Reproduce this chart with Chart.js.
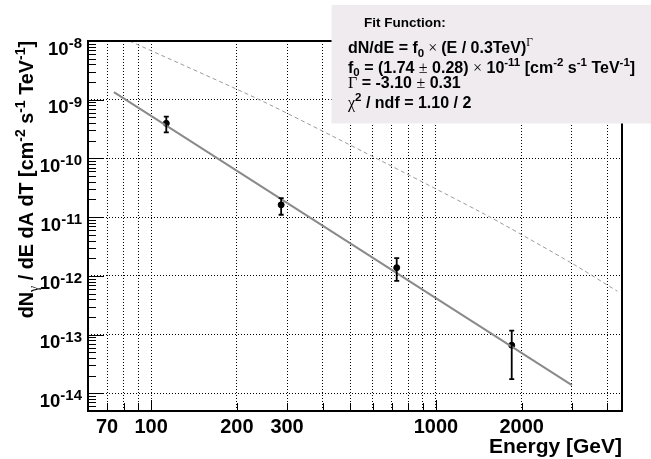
<!DOCTYPE html>
<html>
<head>
<meta charset="utf-8">
<script src="https://cdn.jsdelivr.net/npm/chart.js@4.4.1/dist/chart.umd.min.js"></script>
<style>
    html, body { margin: 0; padding: 0; background: #fff; }
    #caixa { width: 651px; height: 459px; }
</style>
</head>
<body>
<div id="caixa"><canvas id="espectro" width="651" height="459"></canvas></div>
<script>
// pontos medidos (GeV, fluxo) e barras de erro
const energias = [113, 286, 728, 1845];
const fluxos = [3.96e-10, 1.62e-11, 1.38e-12, 6.6e-14];
const fluxoMin = [2.79e-10, 1.10e-11, 8.2e-13, 1.75e-14];
const fluxoMax = [5.14e-10, 2.11e-11, 2.0e-12, 1.17e-13];

// reta do ajuste
const ajusteEnergia = [74, 3000];
const ajusteFluxo = [1.35e-9, 1.38e-14];

// curva tracejada de referencia
const refEnergia = [84, 240, 618, 1550, 3000, 4330];
const refFluxo = [1e-8, 1e-9, 1e-10, 1e-11, 1.64e-12, 5.5e-13];

// eixos
const xMarcas = [60, 70, 80, 90, 100, 200, 300, 400, 500, 600, 700, 800, 900, 1000, 2000, 3000, 4000];
const xRotulos = [70, 100, 200, 300, 1000, 2000];
const yExpoentes = [-8, -9, -10, -11, -12, -13, -14];

const FONTE = '"Liberation Sans", Arial, Helvetica, sans-serif';
const SIMBOLO = '"Liberation Serif", "Times New Roman", serif';

const yMarcas = [];
[-15, -14, -13, -12, -11, -10, -9, -8].forEach(e => {
    for (let m = 1; m <= 9; m++) {
        const v = m * Math.pow(10, e);
        if (v >= 5e-15 && v <= 1.0000001e-8) yMarcas.push(v);
    }
});

function ehDecada(v) {
    const l = Math.log10(v);
    return Math.abs(l - Math.round(l)) < 1e-6;
}

function fonte(tam, simb) {
    return simb ? `${tam}px ${SIMBOLO}` : `bold ${tam}px ${FONTE}`;
}

// partes: [texto, modo, simbolo]; modo 1 = sobrescrito, -1 = subscrito
function textoRico(ctx, partes, x, y, tam, peq, subida, descida, alinhar) {
    const larguras = partes.map(([t, m, s]) => {
        ctx.font = fonte(m ? peq : tam, s);
        return ctx.measureText(t).width;
    });
    const total = larguras.reduce((a, b) => a + b, 0);
    let cx = alinhar === "right" ? x - total : alinhar === "center" ? x - total / 2 : x;
    ctx.textAlign = "left";
    ctx.textBaseline = "alphabetic";
    partes.forEach(([t, m, s], i) => {
        ctx.font = fonte(m ? peq : tam, s);
        const dy = m === 1 ? -subida : m === -1 ? descida : 0;
        ctx.fillText(t, cx, y + dy);
        cx += larguras[i];
    });
}

const desenhos = {
    id: "desenhos",
    afterDatasetsDraw(chart) {
        const { ctx, scales: { x, y } } = chart;
        ctx.save();
        ctx.strokeStyle = "#000";
        ctx.lineWidth = 1.8;
        energias.forEach((e, i) => {
            const px = x.getPixelForValue(e);
            const y1 = y.getPixelForValue(fluxoMax[i]);
            const y2 = y.getPixelForValue(fluxoMin[i]);
            ctx.beginPath();
            ctx.moveTo(px, y1); ctx.lineTo(px, y2);
            ctx.moveTo(px - 2.5, y1); ctx.lineTo(px + 2.5, y1);
            ctx.moveTo(px - 2.5, y2); ctx.lineTo(px + 2.5, y2);
            ctx.stroke();
        });
        ctx.restore();
    },
    afterDraw(chart) {
        const { ctx, chartArea: a, scales: { x, y } } = chart;
        ctx.save();

        // marcas internas
        ctx.strokeStyle = "#000";
        ctx.lineWidth = 1;
        ctx.beginPath();
        xMarcas.forEach(v => {
            if (v <= 60) return;
            const px = Math.round(x.getPixelForValue(v)) + 0.5;
            const len = ehDecada(v) ? 11 : 8;
            ctx.moveTo(px, a.bottom); ctx.lineTo(px, a.bottom - len);
        });
        yMarcas.forEach(v => {
            const py = Math.round(y.getPixelForValue(v)) + 0.5;
            const len = ehDecada(v) ? 16 : 8;
            ctx.moveTo(a.left, py); ctx.lineTo(a.left + len, py);
        });
        ctx.stroke();

        // moldura
        ctx.lineWidth = 2;
        ctx.strokeRect(a.left, a.top, a.right - a.left, a.bottom - a.top);

        ctx.fillStyle = "#000";

        // rotulos do eixo x
        ctx.font = fonte(20);
        ctx.textAlign = "center";
        ctx.textBaseline = "alphabetic";
        xRotulos.forEach(v => {
            ctx.fillText(String(v), x.getPixelForValue(v), 433);
        });

        // rotulos do eixo y
        yExpoentes.forEach(e => {
            const py = y.getPixelForValue(Math.pow(10, e));
            textoRico(ctx, [["10", 0], [String(e), 1]], 82, py + 13.5, 18.5, 15, 6.5, 0, "right");
        });

        // titulos
        ctx.font = fonte(21);
        ctx.textAlign = "right";
        ctx.fillText("Energy [GeV]", a.right, 453);

        ctx.save();
        ctx.translate(33, a.top);
        ctx.rotate(-Math.PI / 2);
        textoRico(ctx, [
            ["dN", 0], ["\u03b3", -1, true], [" / dE dA dT [cm", 0], ["-2", 1],
            [" s", 0], ["-1", 1], [" TeV", 0], ["-1", 1], ["]", 0]
        ], 0, 0, 19.8, 14, 8, 5, "right");
        ctx.restore();

        // caixa do ajuste
        ctx.fillStyle = "#efebef";
        ctx.fillRect(331.5, 5, 651 - 331.5, 118.5);
        ctx.fillStyle = "#000";
        textoRico(ctx, [["Fit Function:", 0]], 364, 27, 13.5, 10, 0, 0, "left");
        textoRico(ctx, [
            ["dN/dE = f", 0], ["0", -1], [" \u00d7 ", 0, true], ["(E / 0.3TeV)", 0], ["\u0393", 1, true]
        ], 348, 53, 16, 11.5, 7, 3.5, "left");
        textoRico(ctx, [
            ["f", 0], ["0", -1], [" = (1.74 ", 0], ["\u00b1", 0, true], [" 0.28) ", 0], ["\u00d7", 0, true],
            [" 10", 0], ["-11", 1], [" [cm", 0], ["-2", 1], [" s", 0], ["-1", 1],
            [" TeV", 0], ["-1", 1], ["]", 0]
        ], 348, 72.5, 16, 11.5, 7, 3.5, "left");
        textoRico(ctx, [
            ["\u0393", 0, true], [" = -3.10 ", 0], ["\u00b1", 0, true], [" 0.31", 0]
        ], 348, 88, 16, 11.5, 7, 3.5, "left");
        textoRico(ctx, [
            ["\u03c7", 0, true], ["2", 1], [" / ndf = 1.10 / 2", 0]
        ], 348, 107.5, 16, 11.5, 7, 3.5, "left");

        ctx.restore();
    }
};

new Chart(document.getElementById("espectro"), {
    type: "scatter",
    data: {
        datasets: [
            {
                data: ajusteEnergia.map((e, i) => ({ x: e, y: ajusteFluxo[i] })),
                showLine: true,
                borderColor: "#8a8a8a",
                borderWidth: 2,
                pointRadius: 0
            },
            {
                data: refEnergia.map((e, i) => ({ x: e, y: refFluxo[i] })),
                showLine: true,
                borderColor: "#9a9a9a",
                borderWidth: 1,
                borderDash: [4, 3],
                tension: 0.2,
                pointRadius: 0
            },
            {
                data: energias.map((e, i) => ({ x: e, y: fluxos[i] })),
                backgroundColor: "#000",
                borderColor: "#000",
                pointRadius: 3
            }
        ]
    },
    options: {
        responsive: false,
        animation: false,
        layout: { padding: { left: 88, top: 41, right: 29, bottom: 48 } },
        plugins: { legend: { display: false }, tooltip: { enabled: false } },
        scales: {
            x: {
                type: "logarithmic",
                min: 60,
                max: 4500,
                afterBuildTicks: s => { s.ticks = xMarcas.map(v => ({ value: v })); },
                ticks: { display: false },
                grid: {
                    drawTicks: false,
                    lineWidth: 1,
                    color: c => (c.tick && c.tick.value > 60) ? "#000" : "rgba(0,0,0,0)"
                },
                border: { display: false, dash: [1, 2] }
            },
            y: {
                type: "logarithmic",
                min: 5e-15,
                max: 1e-8,
                afterBuildTicks: s => { s.ticks = yMarcas.map(v => ({ value: v })); },
                ticks: { display: false },
                grid: {
                    drawTicks: false,
                    lineWidth: 1,
                    color: c => (c.tick && ehDecada(c.tick.value)) ? "#000" : "rgba(0,0,0,0)"
                },
                border: { display: false, dash: [1, 2] }
            }
        }
    },
    plugins: [desenhos]
});
</script>
</body>
</html>
